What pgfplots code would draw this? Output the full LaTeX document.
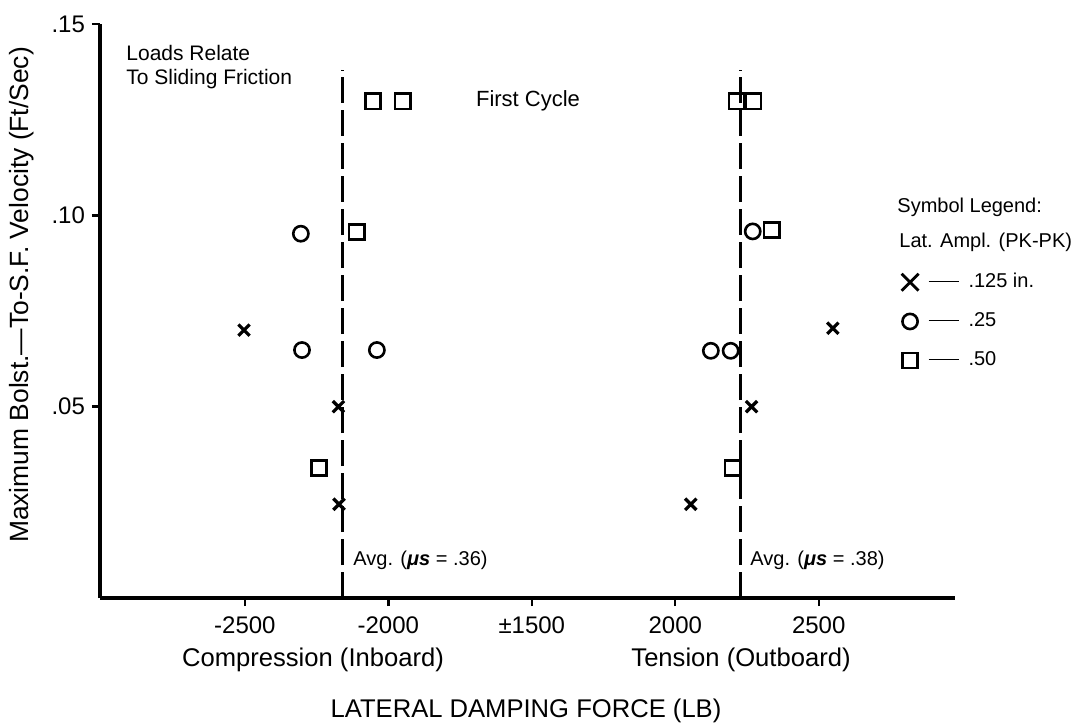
\documentclass[border=0pt]{standalone}
\usepackage{fontspec}
\setmainfont{Liberation Sans}
\usepackage{pgfplots}
\pgfplotsset{compat=1.18}
\usepackage{pgfplotstable}

% Lateral damping force (lb) vs. max velocity (ft/sec)
\pgfplotstableread{
F v
-2503 0.0700
-2174 0.0500
-2172 0.0245
2549 0.0705
2266 0.0500
2054 0.0245
}\crosses
\pgfplotstableread{
F v
-2305 0.0952
-2301 0.0648
-2040 0.0648
2270 0.0958
2124 0.0646
2193 0.0646
}\circles
\pgfplotstableread{
F v
-2054 0.1298
-1950 0.1298
-2110 0.0956
-2242 0.0340
2214 0.1298
2273 0.1298
2336 0.0962
2200 0.0340
}\squares
\pgfplotstableread{
F v
-2159 0
-2159 0.138
}\avgcomp
\pgfplotstableread{
F v
2228 0
2228 0.138
}\avgtens

\newcommand{\legdash}{\hspace{4pt}\rule[0.3em]{15pt}{0.7pt}\hspace{5pt}}

\begin{document}
\begin{tikzpicture}[x=1pt,y=1pt]
\path[use as bounding box] (-50,-63) rectangle (487.5,299);
\begin{axis}[
  at={(0pt,0pt)}, anchor=south west,
  scale only axis, width=427.5pt, height=287pt,
  xmin=-3.01, xmax=2.95, ymin=0, ymax=0.15,
  axis x line*=bottom, axis y line*=left,
  axis line style={line width=2pt, -},
  clip=false,
  xtick={-2,-1,0,1,2},
  xticklabels={-2500,-2000,±1500,2000,2500},
  ytick={0.05,0.1,0.15},
  yticklabels={.05,.10,.15},
  tick align=outside,
  major tick length=4pt,
  tick style={line width=1.2pt, black},
  ticklabel style={font=\fontsize{12}{14}\selectfont},
  xticklabel style={yshift=-2pt},
  legend style={draw=none, fill=none, at={(0.93,0.58)}, anchor=north west,
    font=\fontsize{10}{12}\selectfont, row sep=7pt,
    nodes={inner xsep=1pt}},
  legend cell align=left,
  legend image code/.code={\draw[#1] plot coordinates {(0.25cm,0cm)};},
]
\addplot[only marks, mark=x, mark size=4pt, mark options={line width=1.6pt},
  legend image post style={mark size=6pt, mark options={line width=1.4pt}}]
  table[x expr={\thisrow{F}<0 ? (\thisrow{F}+1500)/500 : (\thisrow{F}-1500)/500}, y=v] {\crosses};
\addlegendentry{\legdash.125 in.}
\addplot[only marks, mark=o, mark size=3.8pt, mark options={line width=1.3pt}]
  table[x expr={\thisrow{F}<0 ? (\thisrow{F}+1500)/500 : (\thisrow{F}-1500)/500}, y=v] {\circles};
\addlegendentry{\legdash.25}
\addplot[only marks, mark=square, mark size=3.8pt, mark options={line width=1.3pt}]
  table[x expr={\thisrow{F}<0 ? (\thisrow{F}+1500)/500 : (\thisrow{F}-1500)/500}, y=v] {\squares};
\addlegendentry{\legdash.50}
\addplot[forget plot, line width=1.3pt, dash pattern=on 13pt off 3.5pt]
  table[x expr={(\thisrow{F}+1500)/500}, y=v] {\avgcomp};
\addplot[forget plot, line width=1.3pt, dash pattern=on 13pt off 3.5pt]
  table[x expr={(\thisrow{F}-1500)/500}, y=v] {\avgtens};
\end{axis}
% texts (positions in pt relative to axis origin)
\node[anchor=base west, inner sep=0pt, font=\fontsize{10.5}{12}\selectfont] at (13,268.5) {Loads Relate};
\node[anchor=base west, inner sep=0pt, font=\fontsize{10.5}{12}\selectfont] at (13,256.5) {To Sliding Friction};
\node[inner sep=0pt, font=\fontsize{11}{13}\selectfont] at (214,248.5) {First Cycle};
\node[anchor=west, inner sep=0pt, font=\fontsize{10}{12}\selectfont] at (126.5,19) {Avg. (\textit{\textbf{μs}} = .36)};
\node[anchor=west, inner sep=0pt, font=\fontsize{10}{12}\selectfont] at (325,19) {Avg. (\textit{\textbf{μs}} = .38)};
\node[anchor=west, inner sep=0pt, font=\fontsize{10}{12}\selectfont] at (398.5,195.5) {Symbol Legend:};
\node[anchor=west, inner sep=0pt, font=\fontsize{10}{12}\selectfont] at (399.5,178) {Lat. Ampl. (PK-PK)};
\node[inner sep=0pt, font=\fontsize{12.8}{14}\selectfont] at (106.5,-31) {Compression (Inboard)};
\node[inner sep=0pt, font=\fontsize{12.8}{14}\selectfont] at (320.5,-31) {Tension (Outboard)};
\node[inner sep=0pt, font=\fontsize{12.8}{14}\selectfont] at (213,-56.5) {LATERAL DAMPING FORCE (LB)};
\node[inner sep=0pt, rotate=90, font=\fontsize{13.2}{14}\selectfont] at (-39,151.5) {Maximum Bolst.—To-S.F. Velocity (Ft/Sec)};
\end{tikzpicture}
\end{document}
